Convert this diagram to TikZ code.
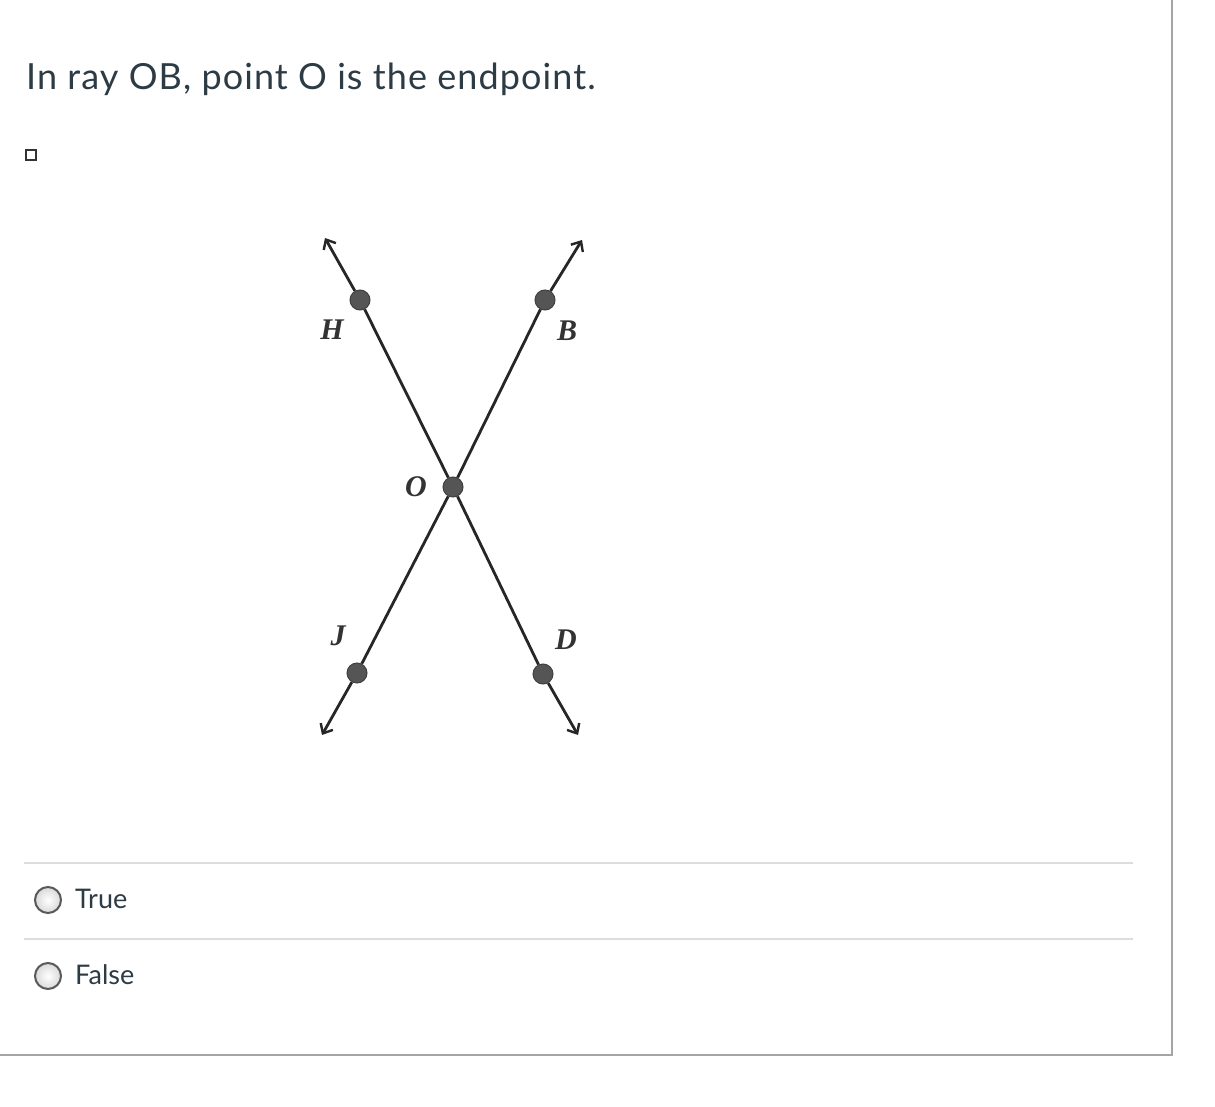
\documentclass[tikz,border=0pt]{standalone}
\usepackage{fontspec}
\setmainfont{Lato}
\newfontfamily\figfont{Liberation Serif}
\usetikzlibrary{arrows.meta, positioning}

\definecolor{canvastext}{RGB}{45,59,69}
\definecolor{sepgray}{RGB}{221,221,221}
\definecolor{framegray}{RGB}{165,165,165}
\definecolor{dotgray}{RGB}{85,85,85}

\begin{document}
\begin{tikzpicture}[x=1pt, y=-1pt,
    dot/.style={circle, fill=dotgray, draw=black!75, line width=1pt, minimum size=20pt, inner sep=0pt},
    ptlabel/.style={font=\figfont\bfseries\itshape\fontsize{30}{30}\selectfont, text=black!80, inner sep=0pt},
    rayline/.style={line width=2.8pt, black!85},
    raytip/.style={rayline, -{Straight Barb[length=8pt, width=14pt, line width=2.4pt]}},
    radio/.style={circle, draw=black!65, line width=2pt, minimum size=26pt, inner sep=0pt, inner color=white, outer color=black!15},
    answer/.style={font=\fontsize{27}{27}\selectfont, text=canvastext, anchor=base west, inner sep=0pt}]
  \useasboundingbox (0,0) rectangle (1215,1107);
  \fill[white] (0,0) rectangle (1215,1107);

  % Draw the frame
  \draw[framegray, line width=2.5pt] (1172,0) -- (1172,1055) -- (0,1055);

  % Question text
  \node[font=\fontsize{36}{36}\selectfont\addfontfeature{LetterSpace=3}, text=canvastext, anchor=base west, inner sep=0pt] (question) at (26,90) {In ray OB, point O is the endpoint.};
  \node[draw=black!80, line width=2pt, minimum size=10pt, inner sep=0pt] (box) at (30.5,155.5) {};

  % Points on the two lines
  \node[dot] (O) at (453,487) {};
  \node[dot] (H) at (360,300) {};
  \node[dot] (B) at (545,300) {};
  \node[dot] (J) at (357,673) {};
  \node[dot] (D) at (543,674) {};
  \coordinate (hTip) at (325,238);
  \coordinate (bTip) at (582,240);
  \coordinate (jTip) at (322,735);
  \coordinate (dTip) at (578,735);

  % Draw the lines
  \draw[rayline] (H) -- (O);
  \draw[rayline] (O) -- (D);
  \draw[rayline] (B) -- (O);
  \draw[rayline] (O) -- (J);
  \draw[raytip] (H) -- (hTip);
  \draw[raytip] (B) -- (bTip);
  \draw[raytip] (J) -- (jTip);
  \draw[raytip] (D) -- (dTip);

  % Label the points
  \node[ptlabel] (labH) at (332,330) {H};
  \node[ptlabel] (labB) at (567,331) {B};
  \node[ptlabel] (labO) at (416,487) {O};
  \node[ptlabel] (labJ) at (338,636) {J};
  \node[ptlabel] (labD) at (566,640) {D};

  % Answer separators
  \foreach \y in {863,939} {
    \draw[sepgray, line width=2pt] (24,\y) -- (1133,\y);
  }

  % Answer choices
  \node[radio] (rTrue) at (48,900) {};
  \node[answer] (aTrue) at (75,908) {True};
  \node[radio] (rFalse) at (48,976) {};
  \node[answer] (aFalse) at (75,984) {False};
\end{tikzpicture}
\end{document}
